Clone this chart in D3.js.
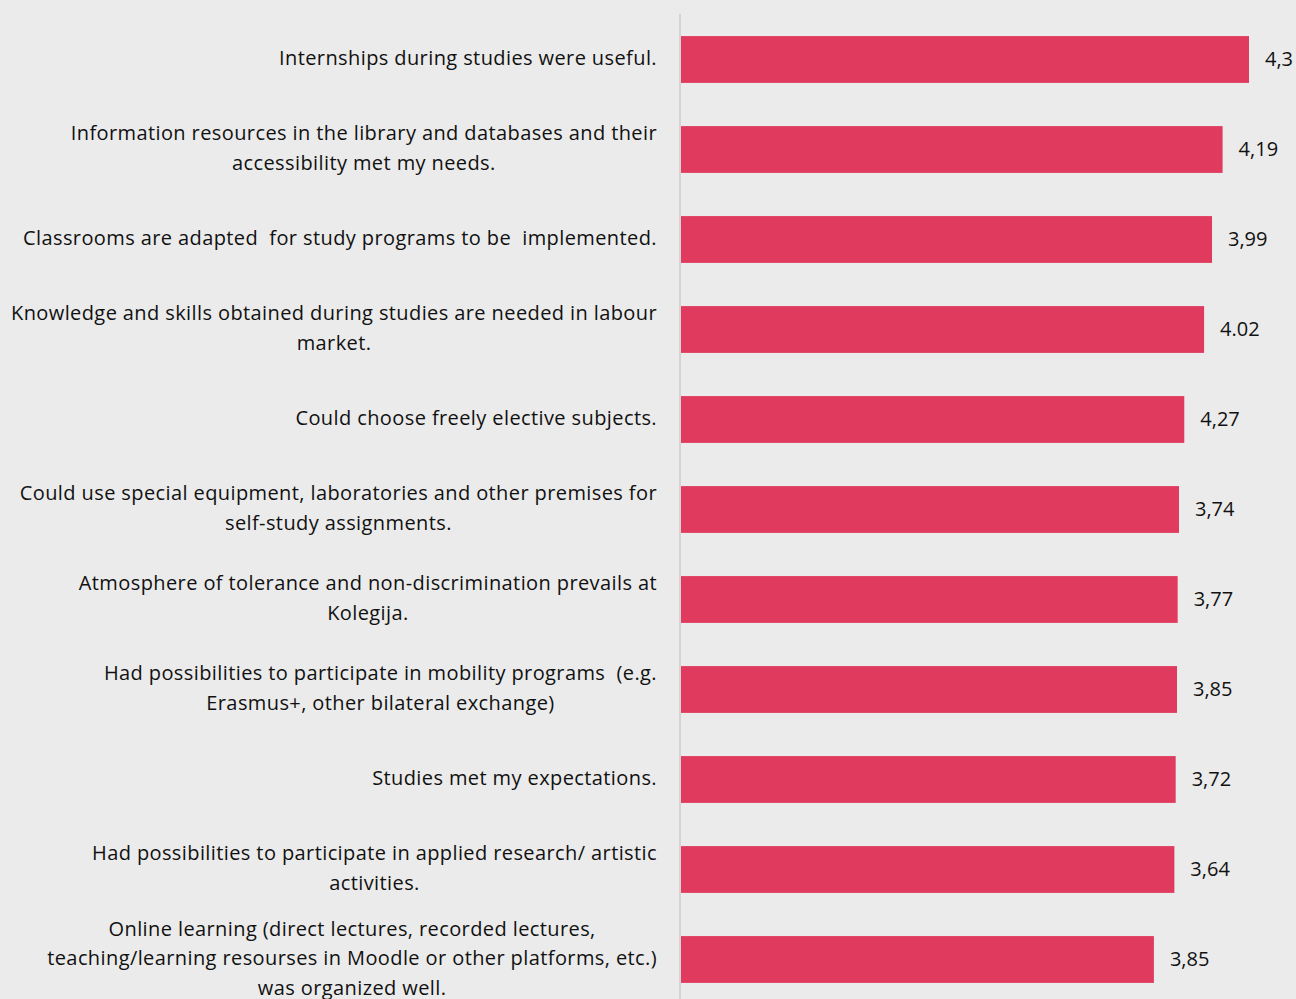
<!DOCTYPE html>
<html>
<head>
<meta charset="utf-8">
<script src="https://cdn.jsdelivr.net/npm/d3@7"></script>
<style>
  body { margin: 0; background: #ebebeb; }
  svg { display: block; }
  text { font-family: "Open Sans", "Noto Sans", sans-serif; fill: #111; white-space: pre; }
</style>
</head>
<body>
<div id="chart-area"></div>
<script>
// categories (lines already broken the way the original shows them)
var categories = [
  ["Internships during studies were useful."],
  ["Information resources in the library and databases and their", "accessibility met my needs."],
  ["Classrooms are adapted  for study programs to be  implemented."],
  ["Knowledge and skills obtained during studies are needed in labour", "market."],
  ["Could choose freely elective subjects."],
  ["Could use special equipment, laboratories and other premises for", "self-study assignments."],
  ["Atmosphere of tolerance and non-discrimination prevails at", "Kolegija."],
  ["Had possibilities to participate in mobility programs  (e.g.", "Erasmus+, other bilateral exchange)"],
  ["Studies met my expectations."],
  ["Had possibilities to participate in applied research/ artistic", "activities."],
  ["Online learning (direct lectures, recorded lectures,", "teaching/learning resourses in Moodle or other platforms, etc.)", "was organized well."]
];
// bar lengths as drawn
var values = [4.30, 4.10, 4.02, 3.96, 3.81, 3.77, 3.76, 3.755, 3.745, 3.735, 3.58];
// value labels as printed next to each bar
var valueLabels = ["4,3", "4,19", "3,99", "4.02", "4,27", "3,74", "3,77", "3,85", "3,72", "3,64", "3,85"];

var width = 1296, height = 999;
var axisX = 681;
var fs = "20px";

var svg = d3.select("#chart-area").append("svg")
  .attr("width", width)
  .attr("height", height);

svg.append("rect").attr("width", width).attr("height", height).attr("fill", "#ebebeb");

var idx = d3.range(categories.length);

var x = d3.scaleLinear().domain([0, 4.3]).range([axisX, 1249]);
var y = d3.scaleBand().domain(idx).range([14.5, 1004.5])
  .paddingInner(0.48).paddingOuter(0.24);

// bars
svg.selectAll("rect.bar").data(idx).enter().append("rect")
  .attr("class", "bar")
  .attr("x", x(0))
  .attr("y", (i) => { return y(i); })
  .attr("width", (i) => { return x(values[i]) - x(0); })
  .attr("height", y.bandwidth())
  .attr("fill", "#e03a5e");

// vertical axis line
svg.append("line")
  .attr("x1", axisX - 1).attr("x2", axisX - 1)
  .attr("y1", 14).attr("y2", height)
  .attr("stroke", "#d4d4d4")
  .attr("stroke-width", 2);

// value labels
svg.selectAll("text.val").data(idx).enter().append("text")
  .attr("class", "val")
  .attr("x", (i) => { return x(values[i]) + 16; })
  .attr("y", (i) => { return y(i) + y.bandwidth() / 2; })
  .attr("dy", "0.3em")
  .attr("font-size", fs)
  .text((i) => { return valueLabels[i]; });

// category labels
var lineH = 29.5;
var cat = svg.selectAll("text.cat").data(idx).enter().append("text")
  .attr("class", "cat")
  .attr("text-anchor", "middle")
  .attr("font-size", fs)
  .attr("letter-spacing", "0.4px");

cat.each(function(i) {
  var lines = categories[i];
  var t = d3.select(this);
  var cy = y(i) + y.bandwidth() / 2;
  var first = cy - (lines.length - 1) * lineH / 2;
  lines.forEach((ln, k) => {
    t.append("tspan")
      .attr("x", 0)
      .attr("y", first + k * lineH)
      .attr("dy", "0.28em")
      .text(ln);
  });
});

// right align the block, centre each line within it
cat.each(function() {
  var t = d3.select(this);
  var w = 0;
  t.selectAll("tspan").each(function() { w = Math.max(w, this.getComputedTextLength()); });
  t.selectAll("tspan").attr("x", 657 - w / 2);
});
</script>
</body>
</html>
